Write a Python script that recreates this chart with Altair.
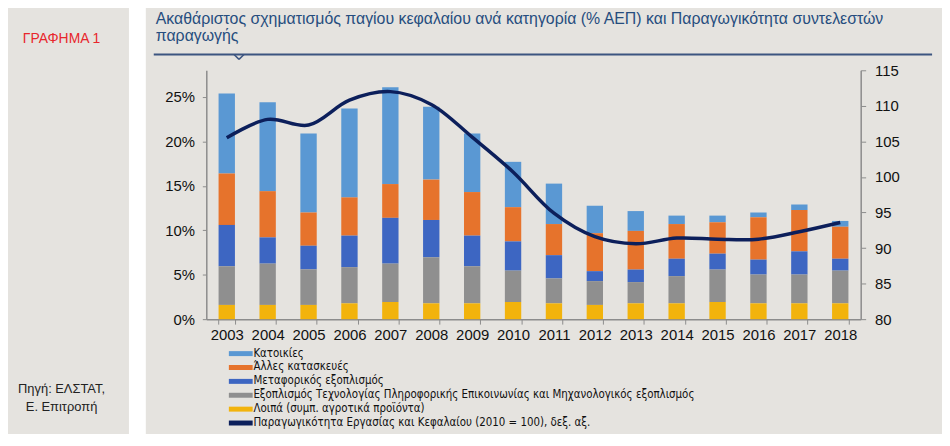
import altair as alt
import pandas as pd

years = [str(y) for y in range(2003, 2019)]

categories = [
    "Κατοικίες",
    "Άλλες κατασκευές",
    "Μεταφορικός εξοπλισμός",
    "Εξοπλισμός Τεχνολογίας Πληροφορικής Επικοινωνίας και Μηχανολογικός εξοπλισμός",
    "Λοιπά (συμπ. αγροτικά προϊόντα)",
]
line_label = "Παραγωγικότητα Εργασίας και Κεφαλαίου (2010 = 100), δεξ. αξ."

katoikies = [9.0, 10.0, 8.9, 10.0, 10.9, 8.2, 6.6, 5.1, 4.55, 3.09, 2.23, 0.95, 0.75, 0.54, 0.62, 0.65]
alles = [5.8, 5.2, 3.74, 4.3, 3.8, 4.54, 4.9, 3.85, 3.5, 4.27, 4.35, 3.9, 3.53, 4.76, 4.65, 3.6]
metaforikos = [4.65, 2.95, 2.66, 3.55, 5.15, 4.2, 3.45, 3.29, 2.62, 1.12, 1.41, 1.96, 1.79, 1.68, 2.61, 1.34]
tpe = [4.35, 4.65, 4.0, 4.07, 4.32, 5.18, 4.17, 3.53, 2.8, 2.68, 2.39, 3.06, 3.65, 3.24, 3.24, 3.68]
loipa = [1.6, 1.6, 1.6, 1.78, 1.93, 1.78, 1.78, 1.93, 1.78, 1.6, 1.78, 1.78, 1.93, 1.78, 1.78, 1.78]
productivity = [105.5, 108.1, 107.3, 110.8, 112.0, 110.2, 105.6, 100.7, 94.9, 91.6, 90.6, 91.4, 91.25, 91.25, 92.3, 93.6]

colors = ["#5a98d3", "#e6732c", "#3d66c2", "#8f8f8f", "#f2b30c", "#0c1f5b"]

series = [katoikies, alles, metaforikos, tpe, loipa]
rows = []
for ci, (cat, vals) in enumerate(zip(categories, series)):
    for y, v in zip(years, vals):
        rows.append({"year": y, "cat": cat, "value": v, "stack": 4 - ci})
bars_df = pd.DataFrame(rows)
line_df = pd.DataFrame({"year": years, "prod": productivity})

FONT = "Liberation Sans"
LEGEND_FONT = "DejaVu Sans Condensed, Liberation Sans"
one = pd.DataFrame({"a": [0]})

xscale = alt.Scale(domain=years, paddingInner=0.6, paddingOuter=0.3)
x_axis = alt.Axis(labelAngle=0, labelFontSize=15, labelFont=FONT, labelColor="#111",
                  domainColor="#8c8c8c", domainWidth=1.5, tickColor="#8c8c8c",
                  tickSize=5, tickBand="extent", labelPadding=4, grid=False)

bars = alt.Chart(bars_df).mark_bar().encode(
    x=alt.X("year:N", scale=xscale, title=None, axis=x_axis),
    y=alt.Y("value:Q", stack="zero", title=None,
            scale=alt.Scale(domain=[0, 28], nice=False),
            axis=alt.Axis(values=[0, 5, 10, 15, 20, 25], labelExpr="datum.value + '%'",
                          labelFontSize=15, labelFont=FONT, labelColor="#111",
                          domainColor="#8c8c8c", domainWidth=1.5, tickColor="#8c8c8c",
                          tickSize=4, labelPadding=8, grid=False)),
    color=alt.Color("cat:N",
                    scale=alt.Scale(domain=categories + [line_label], range=colors),
                    legend=alt.Legend(orient="none", legendX=29, legendY=280, title=None,
                                      symbolType="M-2.4,-0.5H2.4V0.5H-2.4Z", symbolSize=100,
                                      symbolStrokeWidth=0, labelOffset=7,
                                      labelFont=LEGEND_FONT, labelFontSize=11.5,
                                      labelColor="#111", rowPadding=1, labelLimit=600,
                                      padding=0)),
    order=alt.Order("stack:Q"),
)

line = alt.Chart(line_df).mark_line(color="#0c1f5b", strokeWidth=3.5, interpolate="catmull-rom").encode(
    x=alt.X("year:N", scale=xscale, title=None, axis=x_axis),
    y=alt.Y("prod:Q", title=None,
            scale=alt.Scale(domain=[80, 115], nice=False, zero=False),
            axis=alt.Axis(orient="right", values=[80, 85, 90, 95, 100, 105, 110, 115],
                          labelFontSize=15, labelFont=FONT, labelColor="#111",
                          domainColor="#8c8c8c", domainWidth=1.5, tickColor="#8c8c8c",
                          tickSize=5, labelPadding=9, grid=False)),
)

gap = alt.Chart(one).mark_rect(color="white").encode(
    x=alt.value(-78), x2=alt.value(-61), y=alt.value(-70), y2=alt.value(370))

def txt(s, x, y, size, color, align="left", font=FONT):
    return alt.Chart(one).mark_text(align=align, baseline="middle", fontSize=size,
                                    font=font, color=color).encode(
        x=alt.value(x), y=alt.value(y), text=alt.value(s))

title1 = txt("Ακαθάριστος σχηματισμός παγίου κεφαλαίου ανά κατηγορία (% ΑΕΠ) και Παραγωγικότητα συντελεστών",
             -51, -52, 16, "#264d7e")
title2 = txt("παραγωγής", -51, -35, 16, "#264d7e")
grafima = txt("ΓΡΑΦΗΜΑ 1", -146, -32, 14, "#e8262c", align="center")
src1 = txt("Πηγή: ΕΛΣΤΑΤ,", -146, 321, 13, "#222", align="center")
src2 = txt("Ε. Επιτροπή", -146, 340, 13, "#222", align="center")

uline = alt.Chart(one).mark_rule(color="#3c5580", strokeWidth=2).encode(
    x=alt.value(-53), x2=alt.value(732), y=alt.value(-16), y2=alt.value(-16))
notch1 = alt.Chart(one).mark_rule(color="#3c5580", strokeWidth=1.5).encode(
    x=alt.value(28), x2=alt.value(33), y=alt.value(-16), y2=alt.value(-11))
notch2 = alt.Chart(one).mark_rule(color="#3c5580", strokeWidth=1.5).encode(
    x=alt.value(33), x2=alt.value(38), y=alt.value(-11), y2=alt.value(-16))

chart = alt.layer(
    gap, title1, title2, uline, notch1, notch2, grafima, src1, src2, bars, line
).resolve_scale(y="independent").properties(
    width=660, height=251,
    padding={"left": 200, "top": 61, "right": 82, "bottom": 114},
    autosize=alt.AutoSizeParams(type="none"),
).configure(background="#e5e3df").configure_view(stroke=None)

chart.save("out.html", embed_options={"renderer": "svg", "actions": False})
